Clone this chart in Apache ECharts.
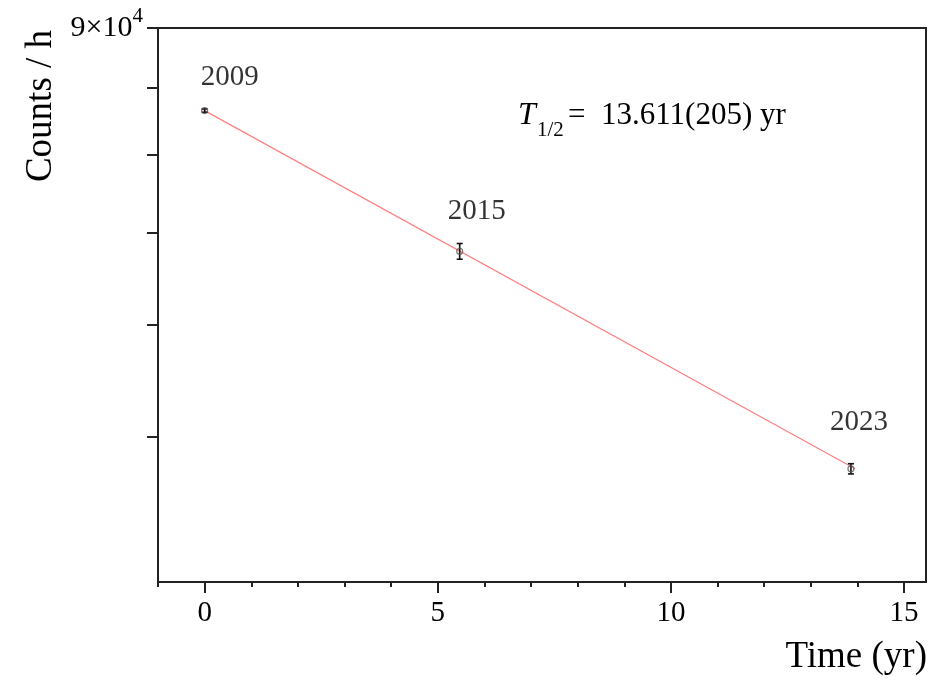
<!DOCTYPE html>
<html>
<head>
<meta charset="utf-8">
<script src="https://cdn.jsdelivr.net/npm/echarts@6/dist/echarts.min.js"></script>
<style>
html,body{margin:0;padding:0;background:#fff;}
#chart{width:948px;height:679px;}
</style>
</head>
<body>
<div id="chart"></div>
<script>
// ---- data ----
const years = ['2009', '2015', '2023'];
const timeYr = [0, 5.47, 13.86];
const counts = [76400, 57800, 37550];
const countErr = [250, 900, 380];
const fitX = [0, 13.95];
const fitY = [76400, 37550];
const xMajorTicks = [0, 5, 10, 15];
const xMinorTicks = [-1, 1, 2, 3, 4, 6, 7, 8, 9, 11, 12, 13, 14];
const yTicks = [40000, 50000, 60000, 70000, 80000, 90000];
const yLabelTicks = [90000];
const halfLifeText = '=\u200213.611(205) yr';

const FONT = "'Liberation Serif', 'Times New Roman', serif";
const AX = '#222';
const TXT = '#000';

const labelOffsets = [[25, -33], [17, -40], [8, -46]];

const points = timeYr.map((t, i) => ({
  value: [t, counts[i]],
  label: { show: true, formatter: years[i], offset: labelOffsets[i], color: TXT }
}));
const errData = timeYr.map((t, i) => [t, counts[i], countErr[i]]);

const chart = echarts.init(document.getElementById('chart'));
chart.setOption({
  animation: false,
  backgroundColor: '#fff',
  grid: { left: 158, right: 22, top: 28, bottom: 97, show: true, borderColor: AX, borderWidth: 2, backgroundColor: 'transparent' },
  xAxis: [{
    type: 'value', min: -1, max: 15.47,
    axisLine: { show: true, onZero: false, lineStyle: { color: AX, width: 2 } },
    axisTick: { show: true, customValues: xMajorTicks, length: 11, lineStyle: { color: AX, width: 2 } },
    axisLabel: { show: true, customValues: xMajorTicks, margin: 17, color: TXT, fontFamily: FONT, fontSize: 29 },
    splitLine: { show: false }
  }, {
    type: 'value', min: -1, max: 15.47, position: 'bottom',
    axisLine: { show: false, onZero: false },
    axisTick: { show: true, customValues: xMinorTicks, length: 5, lineStyle: { color: AX, width: 2 } },
    axisLabel: { show: false },
    splitLine: { show: false }
  }],
  yAxis: {
    type: 'log', logBase: 10, min: 30000, max: 90000,
    axisLine: { show: true, onZero: false, lineStyle: { color: AX, width: 2 } },
    axisTick: { show: true, customValues: yTicks, length: 11, lineStyle: { color: AX, width: 2 } },
    axisLabel: {
      show: true, customValues: yLabelTicks, margin: 15, color: TXT, fontFamily: FONT,
      formatter: v => (v / 10000) + '×10{sup|4}',
      rich: {
        sup: { fontSize: 21, fontFamily: FONT, color: TXT, verticalAlign: 'top', lineHeight: 21 }
      },
      fontSize: 30, lineHeight: 44, verticalAlign: 'middle'
    },
    splitLine: { show: false }
  },
  graphic: [
    { type: 'text', x: 41, y: 106, rotation: Math.PI / 2,
      style: { text: 'Counts / h', fontFamily: FONT, fontSize: 37, fill: TXT, align: 'center', verticalAlign: 'middle' } },
    { type: 'text', x: 927, y: 657,
      style: { text: 'Time (yr)', fontFamily: FONT, fontSize: 37, fill: TXT, align: 'right', verticalAlign: 'middle' } },
    { type: 'text', x: 518, y: 116,
      style: { text: 'T', fontFamily: FONT, fontStyle: 'italic', fontSize: 32, fill: TXT, align: 'left', verticalAlign: 'middle' } },
    { type: 'text', x: 537, y: 130,
      style: { text: '1/2', fontFamily: FONT, fontSize: 21, fill: TXT, align: 'left', verticalAlign: 'middle' } },
    { type: 'text', x: 568, y: 116,
      style: { text: halfLifeText, fontFamily: FONT, fontSize: 31, fill: TXT, align: 'left', verticalAlign: 'middle' } }
  ],
  series: [
    {
      type: 'line', data: fitX.map((x, i) => [x, fitY[i]]), symbol: 'none',
      lineStyle: { color: '#ff8080', width: 1.2 }, z: 2
    },
    {
      type: 'custom', data: errData, z: 3,
      renderItem: (params, api) => {
        const x = api.value(0), y = api.value(1), e = api.value(2);
        const lo = api.coord([x, y - e]);
        const hi = api.coord([x, y + e]);
        const w = 3;
        const st = { stroke: '#111', lineWidth: 1.6 };
        return { type: 'group', children: [
          { type: 'line', shape: { x1: lo[0], y1: lo[1], x2: hi[0], y2: hi[1] }, style: st },
          { type: 'line', shape: { x1: lo[0] - w, y1: lo[1], x2: lo[0] + w, y2: lo[1] }, style: st },
          { type: 'line', shape: { x1: hi[0] - w, y1: hi[1], x2: hi[0] + w, y2: hi[1] }, style: st }
        ]};
      }
    },
    {
      type: 'scatter', data: points, symbol: 'circle', symbolSize: 6, z: 4,
      itemStyle: { color: 'rgba(255,255,255,0)', borderColor: '#555', borderWidth: 1.2 },
      label: { position: 'inside', color: TXT, textBorderWidth: 0, fontFamily: FONT, fontSize: 29, align: 'center', verticalAlign: 'middle' }
    }
  ]
});
</script>
</body>
</html>
